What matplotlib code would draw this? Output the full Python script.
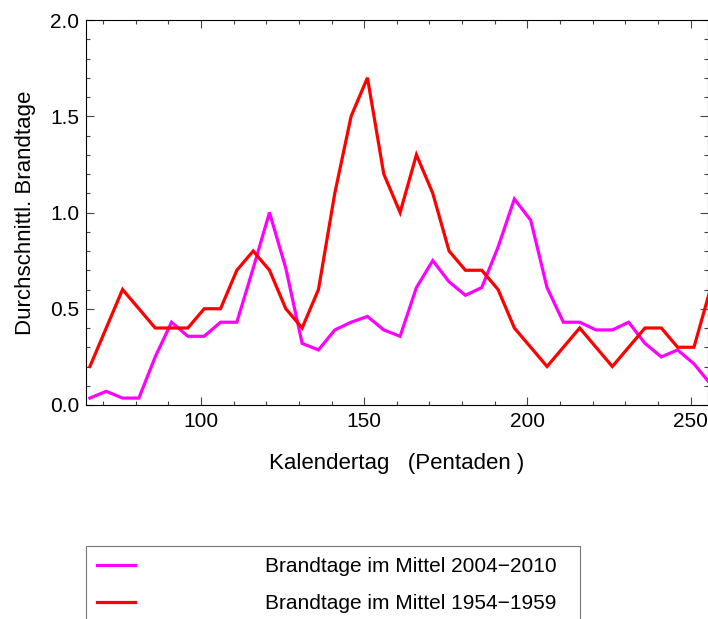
import matplotlib
matplotlib.use("Agg")
import matplotlib.pyplot as plt
import numpy as np
from matplotlib.ticker import MultipleLocator

plt.rcParams['font.family'] = ['Liberation Sans', 'DejaVu Sans']

# Pentad centre days
days = list(range(66, 257, 5))

mittel_2004_2010 = [0.036, 0.071, 0.036, 0.036, 0.25, 0.43, 0.357, 0.357, 0.43, 0.43,
                    0.71, 1.0, 0.71, 0.32, 0.286, 0.39, 0.43, 0.46, 0.39, 0.357,
                    0.61, 0.75, 0.64, 0.57, 0.61, 0.82, 1.07, 0.96, 0.61, 0.43,
                    0.43, 0.39, 0.39, 0.43, 0.32, 0.25, 0.286, 0.214, 0.11]

mittel_1954_1959 = [0.2, 0.4, 0.6, 0.5, 0.4, 0.4, 0.4, 0.5, 0.5, 0.7,
                    0.8, 0.7, 0.5, 0.4, 0.6, 1.1, 1.5, 1.7, 1.2, 1.0,
                    1.3, 1.1, 0.8, 0.7, 0.7, 0.6, 0.4, 0.3, 0.2, 0.3,
                    0.4, 0.3, 0.2, 0.3, 0.4, 0.4, 0.3, 0.3, 0.6]

labels = ["Brandtage im Mittel 2004\u22122010", "Brandtage im Mittel 1954\u22121959"]
colors = ["#ff00ff", "#ff0000"]

W, H = 708, 619
fig = plt.figure(figsize=(W / 100, H / 100), dpi=100)
ax = fig.add_axes([86 / W, 1 - 405 / H, (708 - 86) / W, (405 - 20) / H])

l1, = ax.plot(days, mittel_2004_2010, color=colors[0], lw=2.3, solid_joinstyle='miter')
l2, = ax.plot(days, mittel_1954_1959, color=colors[1], lw=2.3, solid_joinstyle='miter')

ax.set_xlim(64.8, 255.3)
ax.set_ylim(0, 2.0)
ax.xaxis.set_major_locator(MultipleLocator(50))
ax.xaxis.set_minor_locator(MultipleLocator(10))
ax.yaxis.set_major_locator(MultipleLocator(0.5))
ax.yaxis.set_minor_locator(MultipleLocator(0.1))
ax.yaxis.set_major_formatter(matplotlib.ticker.FormatStrFormatter('%.1f'))

ax.tick_params(which='both', direction='in', top=True, right=True, color='#444444', width=0.8)
ax.tick_params(which='major', length=5.5, labelsize=15, pad=5)
ax.tick_params(which='minor', length=3.2)
for s in ax.spines.values():
    s.set_linewidth(0.8)
    s.set_color('black')

ax.set_xlabel("Kalendertag   (Pentaden )", fontsize=16, labelpad=16)
ax.set_ylabel("Durchschnittl. Brandtage", fontsize=16, labelpad=10)

leg = fig.legend([l1, l2], labels, loc='upper left',
                 bbox_to_anchor=(86 / W, 1 - 545.7 / H, (580 - 86) / W, 0.0001),
                 mode='expand', fontsize=15, handlelength=1.8, handletextpad=6.25,
                 borderpad=0.55, labelspacing=0.85, borderaxespad=0, frameon=True,
                 fancybox=False, edgecolor='#555555')
leg.get_frame().set_linewidth(0.8)

fig.savefig("out.png", dpi=100)
